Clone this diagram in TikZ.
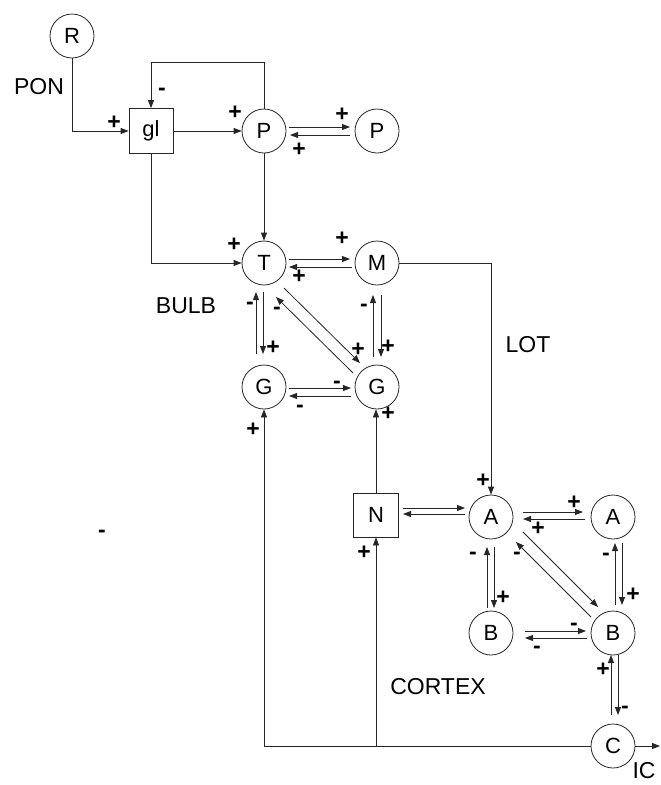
\documentclass[tikz,border=0pt]{standalone}
\usepackage{fontspec}
\setmainfont{Liberation Sans}
\usetikzlibrary{arrows.meta,calc}
\begin{document}
\begin{tikzpicture}[x=1pt,y=-1pt,
  ln/.style={draw=black!85, line width=0.8pt},
  arr/.style={ln, -{Triangle[length=8pt,width=6pt]}},
  circ/.style={circle, ln, minimum size=44pt, inner sep=0pt, font=\fontsize{22}{22}\selectfont},
  sq/.style={rectangle, ln, minimum width=44pt, minimum height=45pt, inner sep=0pt, font=\fontsize{22}{22}\selectfont},
  lbl/.style={font=\fontsize{23}{23}\selectfont, inner sep=0pt},
  sg/.style={font=\bfseries\fontsize{23}{23}\selectfont, inner sep=0pt},
  mn/.style={sg, yshift=-3pt}
]
\useasboundingbox (0,0) rectangle (661,785);

% nodes
\node[circ] (R)  at (72,36)   {R};
\node[sq]   (gl) at (151,131) {gl};
\node[circ] (P1) at (264,131) {P};
\node[circ] (P2) at (377,131) {P};
\node[circ] (T)  at (264,263) {T};
\node[circ] (M)  at (377,263) {M};
\node[circ] (G1) at (264,387) {G};
\node[circ] (G2) at (377,387) {G};
\node[sq, minimum width=45pt, minimum height=44pt] (N) at (376,515) {N};
\node[circ] (A1) at (491,517) {A};
\node[circ] (A2) at (613,517) {A};
\node[circ] (B1) at (491,633) {B};
\node[circ] (B2) at (613,633) {B};
\node[circ] (C)  at (613,746) {C};

% labels
\node[lbl] (lpon) at (39,87) {PON};
\node[lbl] (lbulb) at (186,306) {BULB};
\node[lbl] (llot) at (528,345) {LOT};
\node[lbl] (lcortex) at (438,687) {CORTEX};
\node[lbl] (lic) at (644,771) {IC};

% simple connectors
\draw[arr] (R.south) |- (gl.west);
\coordinate (k1) at (151,62);
\draw[arr] (P1.north) |- (k1) -- (gl.north);
\draw[arr] (gl) -- (P1);
\draw[arr] (gl.south) |- (T.west);
\draw[arr] (P1) -- (T);
\draw[arr] (M.east) -| (A1.north);
\draw[arr] (C.west) -| (G1.south);
\draw[arr] (N.south |- C.west) -- (N.south);
\draw[arr] (N.north) -- (N.north |- G2.south);
\coordinate (out) at (660,746);
\draw[arr] (C.east) -- (out);

% paired connectors
\draw[arr] ($(P1)+(25,-4)$) -- ($(P2)+(-27,-4)$);
\draw[arr] ($(P2)+(-27,4)$) -- ($(P1)+(26,4)$);
\draw[arr] ($(T)+(25,-4)$) -- ($(M)+(-27,-4)$);
\draw[arr] ($(M)+(-25,4)$) -- ($(T)+(25,4)$);
\draw[arr] ($(G1)+(-8,-33)$) -- ($(T)+(-8,29)$);
\draw[arr] ($(T)+(-1,29)$) -- ($(G1)+(-1,-33)$);
\draw[arr] ($(G2)+(-4,-30)$) -- ($(M)+(-4,32)$);
\draw[arr] ($(M)+(4,32)$) -- ($(G2)+(4,-30)$);
\draw[arr] ($(T)+(20,25)$) -- ($(G2)+(-17,-24)$);
\draw[arr] ($(G2)+(-24,-14)$) -- ($(T)+(12,34)$);
\draw[arr] ($(G1)+(25,1)$) -- ($(G2)+(-26,1)$);
\draw[arr] ($(G2)+(-26,9)$) -- ($(G1)+(25,9)$);
\draw[arr] ($(N)+(27,-7)$) -- ($(A1)+(-26,-9)$);
\draw[arr] ($(A1)+(-26,-3)$) -- ($(N)+(27,-1)$);
\draw[arr] ($(A1)+(32,-5)$) -- ($(A2)+(-30,-5)$);
\draw[arr] ($(A2)+(-28,2)$) -- ($(A1)+(32,2)$);
\draw[arr] ($(B1)+(-4,-25)$) -- ($(A1)+(-4,30)$);
\draw[arr] ($(A1)+(3,30)$) -- ($(B1)+(3,-25)$);
\draw[arr] ($(A1)+(32,15)$) -- ($(B2)+(-15,-26)$);
\draw[arr] ($(B2)+(-22,-16)$) -- ($(A1)+(25,25)$);
\draw[arr] ($(B2)+(2,-28)$) -- ($(A2)+(2,26)$);
\draw[arr] ($(A2)+(9,26)$) -- ($(B2)+(9,-28)$);
\draw[arr] ($(B1)+(34,-2)$) -- ($(B2)+(-27,-2)$);
\draw[arr] ($(B2)+(-26,5)$) -- ($(B1)+(34,5)$);
\draw[arr] ($(C)+(-2,-31)$) -- ($(B2)+(-2,22)$);
\draw[arr] ($(B2)+(5,22)$) -- ($(C)+(5,-31)$);

% signs
\foreach \p/\q [count=\i] in {114/123, 235/113, 342/115, 299/150, 234/245, 342/239, 299/277,
  273/348, 358/350, 388/347, 388/414, 253/430, 483/481, 364/553, 574/503, 538/529,
  503/598, 633/595, 603/670}
  \node[sg, name=plus\i] at (\p,\q) {+};
\foreach \p/\q [count=\i] in {162/89, 250/303, 277/308, 364/305, 337/382, 300/406,
  473/553, 517/553, 606/554, 574/624, 537/647, 625/707, 102/531}
  \node[mn, name=minus\i] at (\p,\q) {-};
\end{tikzpicture}
\end{document}
